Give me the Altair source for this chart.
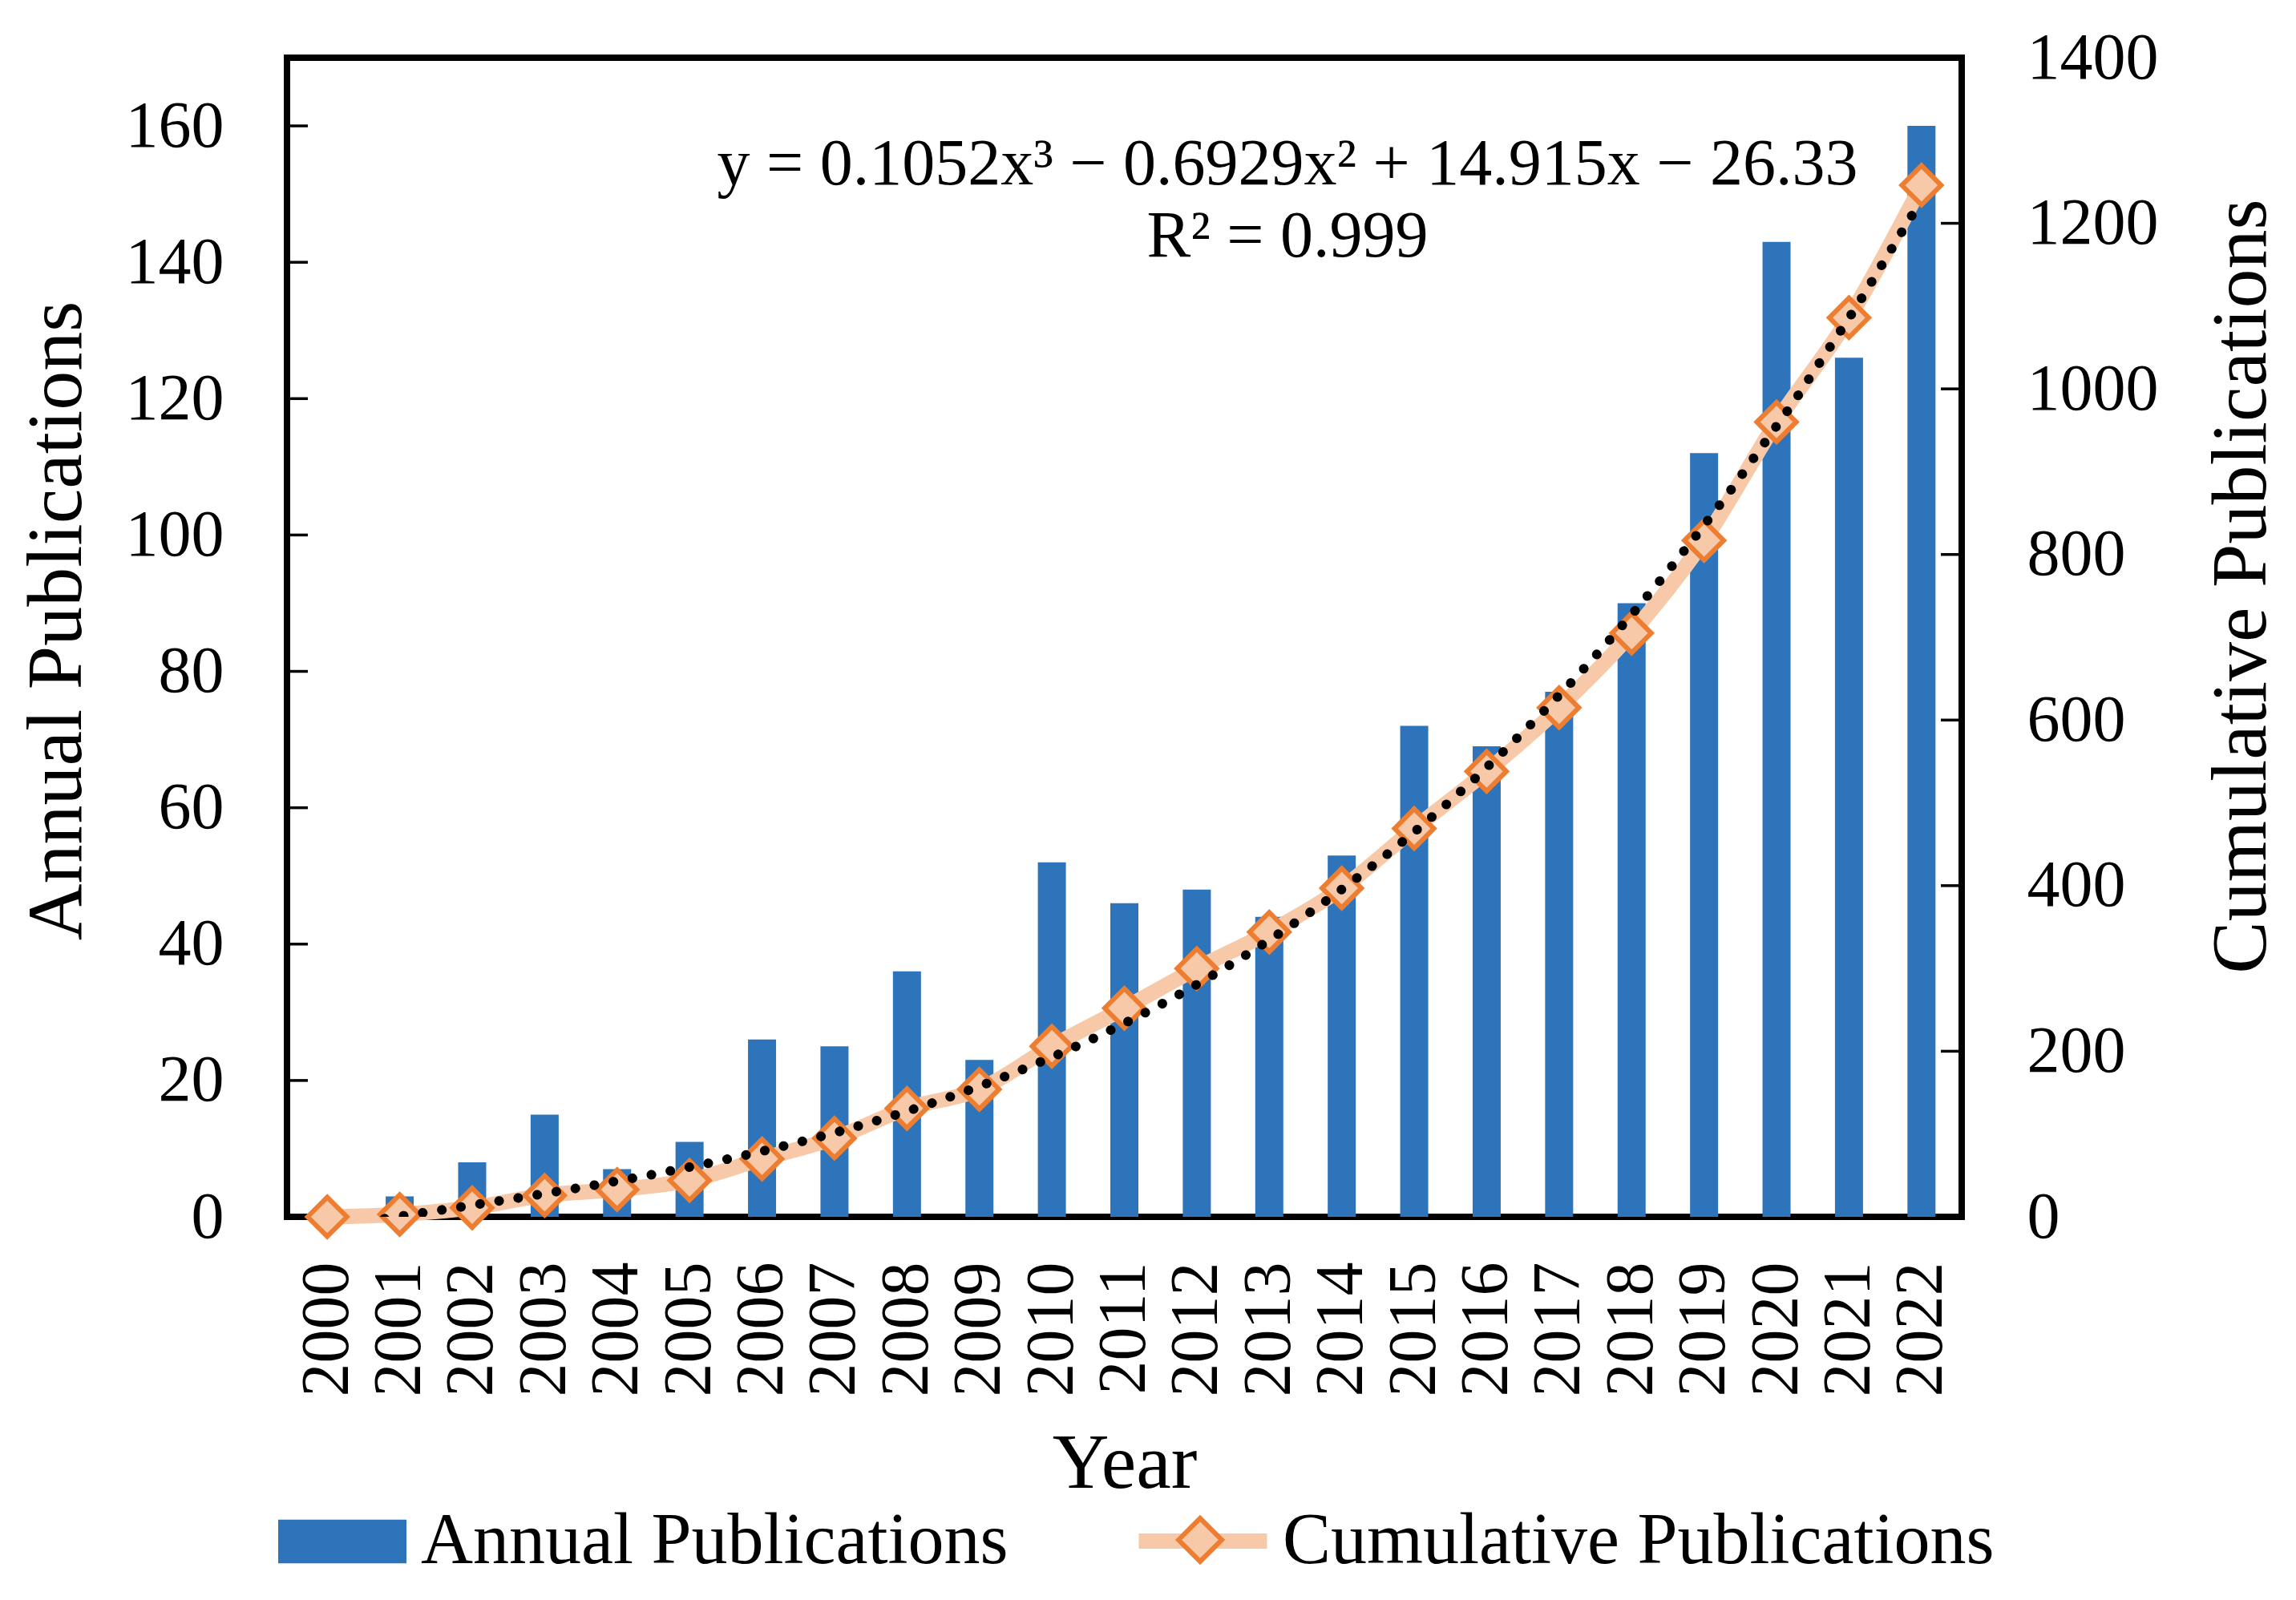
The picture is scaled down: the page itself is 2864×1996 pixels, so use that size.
import altair as alt
import pandas as pd

# ---- data ----
years = list(range(2000, 2023))
annual = [0, 3, 8, 15, 7, 11, 26, 25, 36, 23, 52, 46, 48, 44, 53, 72, 69, 77, 90, 112, 143, 126, 160]
left_ticks = [0, 20, 40, 60, 80, 100, 120, 140, 160]
right_ticks = [0, 200, 400, 600, 800, 1000, 1200, 1400]
equation = ["y = 0.1052x\u00b3 \u2212 0.6929x\u00b2 + 14.915x \u2212 26.33", "R\u00b2 = 0.999"]
bar_label = "Annual Publications"
line_label = "Cumulative Publications"

# ---- style ----
W, H = 2089, 1446
BLUE = "#2E74BA"
PEACH = "#F8C9A8"
ORANGE = "#ED7D31"
FONT = "Liberation Serif"

df = pd.DataFrame({"year": years, "annual": annual})
lt = pd.DataFrame({"v": left_ticks})
rt = pd.DataFrame({"v": right_ticks})

xscale = alt.Scale(domain=[1999.5, 2022.5], nice=False, zero=False)
x_axis = alt.Axis(values=years, format="d", labelAngle=270, labelAlign="right",
                  labelBaseline="middle", labelPadding=56, labelFontSize=84,
                  ticks=False, domain=False, grid=False, title="Year",
                  titleFontSize=98, titleFontWeight="normal", titleY=337,
                  titleBaseline="alphabetic")
X = alt.X("year:Q", scale=xscale, axis=x_axis)

lscale = alt.Scale(domain=[0, 170], nice=False, zero=True)
rscale = alt.Scale(domain=[0, 1400], nice=False, zero=True)

left_axis = alt.Axis(orient="left", values=left_ticks, format="d", ticks=False, domain=False,
                     grid=False, labelFontSize=82, labelPadding=79, labelLimit=1000,
                     title="Annual Publications",
                     titleFontSize=98, titleFontWeight="normal", titleAngle=270,
                     titleX=-258, titleY=702, titleAlign="center", titleBaseline="alphabetic")
right_axis = alt.Axis(orient="right", values=right_ticks, format="d", ticks=False, domain=False,
                      grid=False, labelFontSize=82, labelPadding=81, labelLimit=1000,
                      title="Cumulative Publications",
                      titleFontSize=98, titleFontWeight="normal", titleAngle=270,
                      titleX=378, titleY=659, titleAlign="center", titleBaseline="alphabetic")

base = alt.Chart(df)

bars = base.transform_calculate(s1=f"'{bar_label}'").mark_bar(size=35).encode(
    x=X,
    y=alt.Y("annual:Q", scale=lscale, axis=left_axis),
    color=alt.Color("s1:N", scale=alt.Scale(domain=[bar_label], range=[BLUE]),
                    legend=alt.Legend(orient="none", legendX=-11, legendY=1771, title=None,
                                      symbolType="M-1,-0.34H1V0.34H-1Z", symbolSize=25600,
                                      symbolStrokeWidth=0, symbolOpacity=1,
                                      labelFontSize=90, labelOffset=18)),
)

lticks = alt.Chart(lt).mark_rule(color="black", strokeWidth=3.5).encode(
    y=alt.Y("v:Q", scale=lscale, axis=left_axis),
    x=alt.value(0), x2=alt.value(26),
)

left_group = alt.layer(bars, lticks)

cum = base.transform_window(cum="sum(annual)", frame=[None, 0], sort=[{"field": "year"}])
Yr = alt.Y("cum:Q", scale=rscale, axis=right_axis)

line = cum.transform_calculate(s2=f"'{line_label}'").mark_line(
    strokeWidth=19, interpolate="monotone").encode(
    x=X, y=Yr,
    stroke=alt.Stroke("s2:N", scale=alt.Scale(domain=[line_label], range=[PEACH]),
                      legend=alt.Legend(orient="none", legendX=1053, legendY=1761, title=None,
                                        symbolType="stroke", symbolSize=25600,
                                        symbolStrokeWidth=19, labelFontSize=90, labelOffset=10)),
)

pts = cum.transform_calculate(s3=f"'{line_label} '").mark_point(
    shape="diamond", size=2400, filled=True, stroke=ORANGE, strokeWidth=6, opacity=1).encode(
    x=X, y=Yr,
    fill=alt.Fill("s3:N", scale=alt.Scale(domain=[line_label + " "], range=[PEACH]),
                  legend=alt.Legend(orient="none", legendX=1094, legendY=1804, title=None,
                                    symbolType="diamond", symbolSize=2900,
                                    symbolStrokeColor=ORANGE, symbolStrokeWidth=6,
                                    labelExpr="''", labelFontSize=90)),
)

trend = cum.transform_regression("year", "cum", method="poly", order=3).mark_line(
    color="black", strokeWidth=12, strokeDash=[0.1, 24], strokeCap="round", clip=True).encode(
    x=X, y=Yr,
)

rticks = alt.Chart(rt).mark_rule(color="black", strokeWidth=3.5).encode(
    y=alt.Y("v:Q", scale=rscale, axis=right_axis),
    x=alt.value(W - 26), x2=alt.value(W),
)

eq = alt.Chart(pd.DataFrame({"a": [0]})).mark_text(
    fontSize=82, font=FONT, color="black", align="center", baseline="alphabetic",
    lineHeight=90).encode(
    x=alt.value(1248), y=alt.value(158), text=alt.value(equation))

right_group = alt.layer(line, pts, trend, rticks)

chart = alt.layer(left_group, right_group, eq).resolve_scale(
    y="independent", color="independent", stroke="independent", fill="independent"
).properties(
    width=W, height=H,
    autosize=alt.AutoSizeParams(type="none"),
    padding={"left": 350, "top": 64, "right": 409, "bottom": 470},
).configure_view(stroke="black", strokeWidth=8).configure_axis(
    labelFont=FONT, titleFont=FONT, labelColor="black", titleColor="black"
).configure_legend(
    labelFont=FONT, labelColor="black", labelLimit=2000
).configure_text(font=FONT)

chart.save("out.html", embed_options={"renderer": "svg", "actions": False})
